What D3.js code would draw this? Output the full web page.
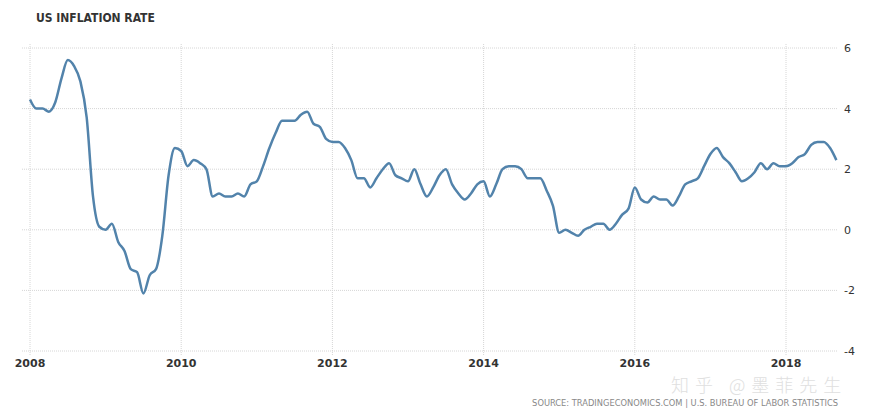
<!DOCTYPE html>
<html><head><meta charset="utf-8">
<script src="https://cdn.jsdelivr.net/npm/d3@7/dist/d3.min.js"></script>
<style>body{margin:0;background:#fff}svg{display:block}</style>
</head><body>
<svg id="c" width="880" height="420"></svg>
<script>
const title = "US INFLATION RATE";
const source = "SOURCE: TRADINGECONOMICS.COM | U.S. BUREAU OF LABOR STATISTICS";
const watermark = "知乎 @墨菲先生";
const startYear = 2008;
const yearTicks = [2008, 2010, 2012, 2014, 2016, 2018];
const valueTicks = [6, 4, 2, 0, -2, -4];
const rate2008 = [4.3, 4.0, 4.0, 3.9, 4.2, 5.0, 5.6, 5.4, 4.9, 3.7, 1.1, 0.1];
const rate2009 = [0.0, 0.2, -0.4, -0.7, -1.3, -1.4, -2.1, -1.5, -1.3, -0.2, 1.8, 2.7];
const rate2010 = [2.6, 2.1, 2.3, 2.2, 2.0, 1.1, 1.2, 1.1, 1.1, 1.2, 1.1, 1.5];
const rate2011 = [1.6, 2.1, 2.7, 3.2, 3.6, 3.6, 3.6, 3.8, 3.9, 3.5, 3.4, 3.0];
const rate2012 = [2.9, 2.9, 2.7, 2.3, 1.7, 1.7, 1.4, 1.7, 2.0, 2.2, 1.8, 1.7];
const rate2013 = [1.6, 2.0, 1.5, 1.1, 1.4, 1.8, 2.0, 1.5, 1.2, 1.0, 1.2, 1.5];
const rate2014 = [1.6, 1.1, 1.5, 2.0, 2.1, 2.1, 2.0, 1.7, 1.7, 1.7, 1.3, 0.8];
const rate2015 = [-0.1, 0.0, -0.1, -0.2, 0.0, 0.1, 0.2, 0.2, 0.0, 0.2, 0.5, 0.7];
const rate2016 = [1.4, 1.0, 0.9, 1.1, 1.0, 1.0, 0.8, 1.1, 1.5, 1.6, 1.7, 2.1];
const rate2017 = [2.5, 2.7, 2.4, 2.2, 1.9, 1.6, 1.7, 1.9, 2.2, 2.0, 2.2, 2.1];
const rate2018 = [2.1, 2.2, 2.4, 2.5, 2.8, 2.9, 2.9, 2.7, 2.3];

const series = [rate2008, rate2009, rate2010, rate2011, rate2012, rate2013, rate2014,
  rate2015, rate2016, rate2017, rate2018].flat().map((v, i) => ({t: startYear + i / 12, v}));

const svg = d3.select("#c");
const x = d3.scaleLinear().domain([2008, 2018]).range([30, 786]);
const y = d3.scaleLinear().domain([-4, 6]).range([351, 48]);

// horizontal grid
svg.append("g").selectAll("line").data(valueTicks).join("line")
  .attr("x1", 22).attr("x2", 838)
  .attr("y1", d => y(d)).attr("y2", d => y(d))
  .attr("stroke", "#d6d6d6").attr("stroke-width", 1).attr("stroke-dasharray", "1,1");
// vertical grid
svg.append("g").selectAll("line").data(yearTicks).join("line")
  .attr("x1", d => x(d)).attr("x2", d => x(d))
  .attr("y1", 44).attr("y2", 356)
  .attr("stroke", "#d6d6d6").attr("stroke-width", 1).attr("stroke-dasharray", "1,1");

// y labels
svg.append("g").selectAll("text").data(valueTicks).join("text")
  .attr("x", 844).attr("y", d => y(d) + 4)
  .attr("font-family", "DejaVu Sans, sans-serif").attr("font-size", 11)
  .attr("fill", "#333").text(d => d);
// x labels
svg.append("g").selectAll("text").data(yearTicks).join("text")
  .attr("x", d => x(d)).attr("y", 367).attr("text-anchor", "middle")
  .attr("font-family", "DejaVu Sans, sans-serif").attr("font-size", 11).attr("font-weight", "bold")
  .attr("fill", "#333").text(d => d);

// line
svg.append("path").datum(series)
  .attr("fill", "none").attr("stroke", "#5283ab").attr("stroke-width", 2.5)
  .attr("stroke-linejoin", "round")
  .attr("d", d3.line().x(d => x(d.t)).y(d => y(d.v)).curve(d3.curveMonotoneX));

// title
svg.append("text").attr("x", 36).attr("y", 22)
  .attr("font-family", "DejaVu Sans Condensed, DejaVu Sans, sans-serif").attr("font-size", 12).attr("font-weight", "bold")
  .attr("fill", "#333").text(title);

// watermark
svg.append("text").attr("x", 671).attr("y", 392)
  .attr("font-family", "Noto Sans CJK SC, sans-serif").attr("font-size", 18).attr("font-weight", 300)
  .attr("letter-spacing", 6)
  .attr("fill", "#e0e0e0").text(watermark);

// source
svg.append("text").attr("x", 838).attr("y", 406).attr("text-anchor", "end")
  .attr("font-family", "DejaVu Sans, sans-serif").attr("font-size", 8.3)
  .attr("fill", "#888").text(source);
</script>
</body></html>
